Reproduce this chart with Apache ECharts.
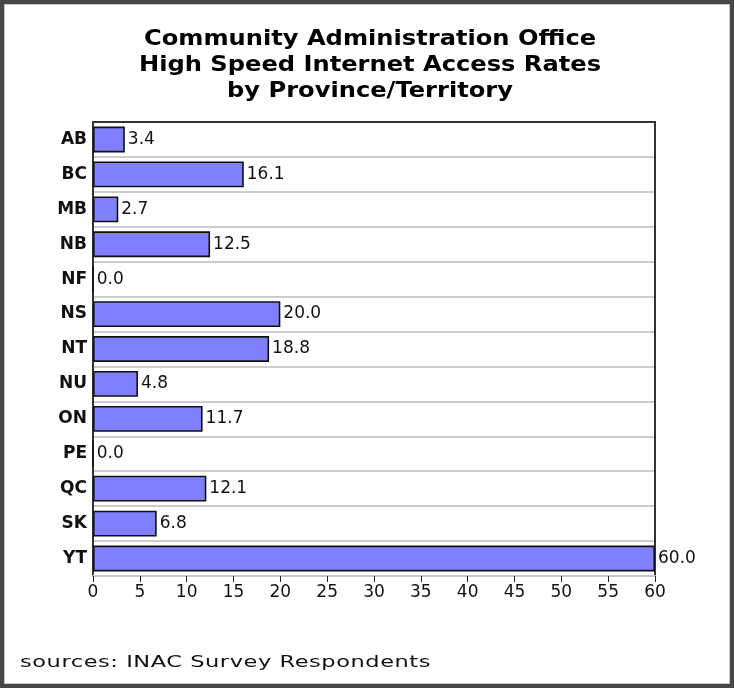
<!DOCTYPE html>
<html>
<head>
<meta charset="utf-8">
<script src="https://cdn.jsdelivr.net/npm/echarts@6/dist/echarts.min.js"></script>
<style>
  html, body { margin: 0; padding: 0; background: #fff; }
  #wrap { position: relative; width: 734px; height: 688px; }
  #chart { position: absolute; left: 0; top: 0; width: 734px; height: 688px; }
  #frame {
    position: absolute; left: 0; top: 0; width: 734px; height: 688px;
    box-sizing: border-box; border: 4px solid #474747; pointer-events: none;
  }
  #frame::after {
    content: ""; position: absolute; left: 0; top: 0; right: 0; bottom: 0;
    border: 1px solid #c4c4c4;
  }
  #source {
    position: absolute; left: 20px; top: 652px;
    font-family: "DejaVu Sans", Verdana, sans-serif; font-size: 16px;
    letter-spacing: 0.4px; color: #111; white-space: nowrap;
    transform: scaleX(1.405); transform-origin: 0 0;
  }
</style>
</head>
<body>
<div id="wrap">
  <div id="chart"></div>
  <div id="source">sources: INAC Survey Respondents</div>
  <div id="frame"></div>
</div>
<script>
// Provinces and territories, top to bottom
const regions = ['AB', 'BC', 'MB', 'NB', 'NF', 'NS', 'NT', 'NU', 'ON', 'PE', 'QC', 'SK', 'YT'];
// High speed internet access rate (%)
const accessRates = [3.4, 16.1, 2.7, 12.5, 0.0, 20.0, 18.8, 4.8, 11.7, 0.0, 12.1, 6.8, 60.0];
// Value axis range
const axisMin = 0;
const axisMax = 60;
const axisStep = 5;

const titleLines = ['Community Administration Office', 'High Speed Internet Access Rates', 'by Province/Territory'];

const chart = echarts.init(document.getElementById('chart'), null, { renderer: 'canvas' });

// Title drawn as a graphic text so it can be widened slightly
const titleGraphic = {
  type: 'text',
  x: 370,
  y: 27,
  scaleX: 1.15,
  originX: 0,
  silent: true,
  style: {
    text: titleLines.join('\n'),
    x: 0, y: 0,
    align: 'center',
    verticalAlign: 'top',
    font: 'bold 21px "DejaVu Sans"',
    lineHeight: 26,
    fill: '#000'
  }
};

const option = {
  animation: false,
  backgroundColor: '#fff',
  graphic: [titleGraphic],
  grid: { left: 93, right: 79, top: 122, bottom: 112, containLabel: false },
  xAxis: [
    {
      type: 'value',
      position: 'bottom',
      min: axisMin, max: axisMax, interval: axisStep,
      axisLine: { show: true, onZero: false, lineStyle: { color: '#c8c8c8', width: 2 } },
      axisTick: { show: true, length: 6, lineStyle: { color: '#222', width: 1 } },
      axisLabel: { color: '#111', fontFamily: 'DejaVu Sans', fontSize: 17, margin: 8 },
      splitLine: { show: false }
    },
    {
      type: 'value',
      position: 'top',
      min: axisMin, max: axisMax,
      axisLine: { show: true, onZero: false, lineStyle: { color: '#333', width: 2 } },
      axisTick: { show: false },
      axisLabel: { show: false },
      splitLine: { show: false }
    }
  ],
  yAxis: [
    {
      type: 'category',
      data: regions,
      inverse: true,
      position: 'left',
      axisLine: { show: true, onZero: false, lineStyle: { color: '#333', width: 2 } },
      axisTick: { show: false },
      axisLabel: { color: '#111', fontFamily: 'DejaVu Sans', fontWeight: 'bold', fontSize: 17, margin: 6 },
      splitLine: { show: true, lineStyle: { color: '#cdcdcd', width: 2 } }
    },
    {
      type: 'category',
      data: regions,
      inverse: true,
      position: 'right',
      axisLine: { show: true, onZero: false, lineStyle: { color: '#333', width: 2 } },
      axisTick: { show: false },
      axisLabel: { show: false },
      splitLine: { show: false }
    }
  ],
  series: [
    {
      type: 'bar',
      xAxisIndex: 0,
      yAxisIndex: 0,
      data: accessRates,
      barCategoryGap: '26%',
      itemStyle: { color: '#8080ff', borderColor: '#111', borderWidth: 1.6 },
      label: {
        show: true,
        position: 'right',
        distance: 3,
        formatter: p => p.value.toFixed(1),
        color: '#111',
        fontFamily: 'DejaVu Sans',
        fontSize: 17
      }
    }
  ]
};

chart.setOption(option);
</script>
</body>
</html>
